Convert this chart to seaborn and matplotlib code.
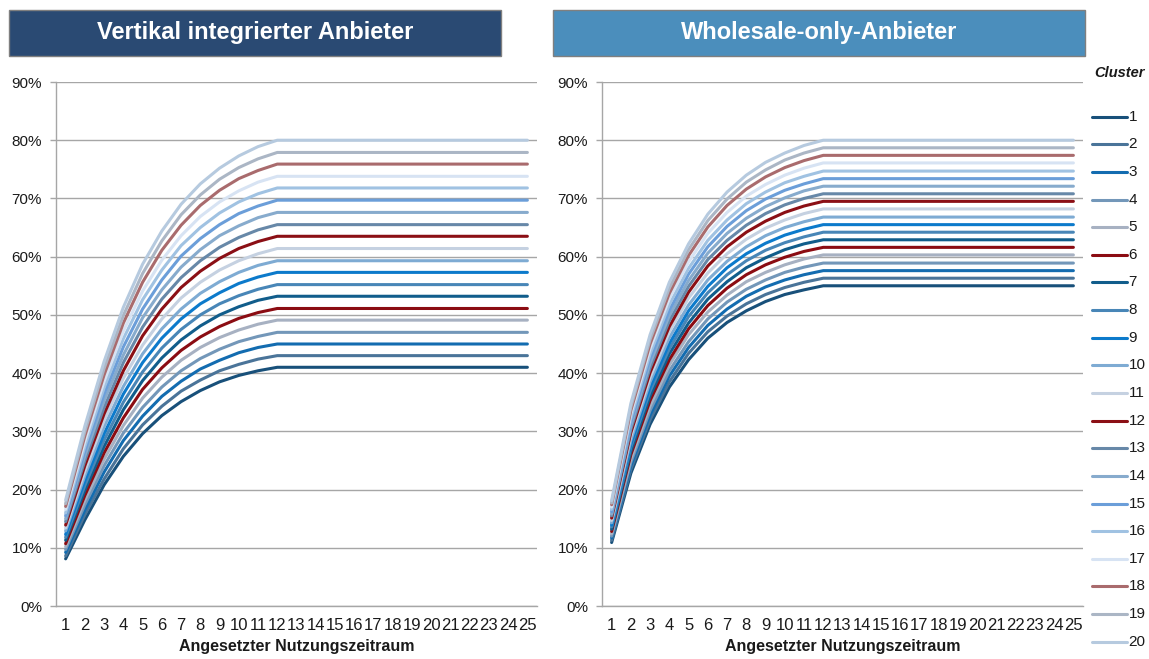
import matplotlib
matplotlib.use("Agg")
import matplotlib.pyplot as plt
from matplotlib.lines import Line2D
from matplotlib.patches import Rectangle
from matplotlib.ticker import FuncFormatter
import pandas as pd
import seaborn as sns

# ---------------------------------------------------------------- data
years = list(range(1, 26))
clusters = [str(i) for i in range(1, 21)]
y_ticks = [0, 10, 20, 30, 40, 50, 60, 70, 80, 90]

panel_titles = ["Vertikal integrierter Anbieter", "Wholesale-only-Anbieter"]
x_label = "Angesetzter Nutzungszeitraum"
legend_title = "Cluster"

cluster_colors = [
    "#18507a", "#4a7499", "#136cb0", "#7397b9", "#a7b1c2",
    "#8b0c12", "#115d8b", "#4886b7", "#0c7acb", "#7eabd3",
    "#c5d1e1", "#8b0f15", "#6788a8", "#87abcd", "#6b9ed9",
    "#a0c2e2", "#d7e3f3", "#a96b6d", "#abb6c5", "#b6cadf",
]
title_colors = ["#2a4a73", "#4b8ebc"]

# share in % per year of use, clusters 1..20
vertikal = [
    [8.1, 14.8, 20.8, 25.7, 29.6, 32.7, 35.1, 37.0, 38.5, 39.6, 40.4, 41.0, 41.0, 41.0, 41.0, 41.0, 41.0, 41.0, 41.0, 41.0, 41.0, 41.0, 41.0, 41.0, 41.0],
    [8.6, 15.7, 21.8, 27.0, 31.1, 34.3, 36.9, 38.8, 40.4, 41.5, 42.4, 43.0, 43.0, 43.0, 43.0, 43.0, 43.0, 43.0, 43.0, 43.0, 43.0, 43.0, 43.0, 43.0, 43.0],
    [9.2, 16.5, 23.0, 28.4, 32.6, 36.0, 38.6, 40.7, 42.2, 43.5, 44.4, 45.0, 45.0, 45.0, 45.0, 45.0, 45.0, 45.0, 45.0, 45.0, 45.0, 45.0, 45.0, 45.0, 45.0],
    [9.7, 17.4, 24.1, 29.7, 34.1, 37.6, 40.4, 42.5, 44.1, 45.4, 46.3, 47.0, 47.0, 47.0, 47.0, 47.0, 47.0, 47.0, 47.0, 47.0, 47.0, 47.0, 47.0, 47.0, 47.0],
    [10.2, 18.2, 25.2, 31.0, 35.7, 39.3, 42.2, 44.4, 46.1, 47.4, 48.4, 49.1, 49.1, 49.1, 49.1, 49.1, 49.1, 49.1, 49.1, 49.1, 49.1, 49.1, 49.1, 49.1, 49.1],
    [10.7, 19.0, 26.3, 32.3, 37.2, 40.9, 43.9, 46.2, 48.0, 49.4, 50.4, 51.1, 51.1, 51.1, 51.1, 51.1, 51.1, 51.1, 51.1, 51.1, 51.1, 51.1, 51.1, 51.1, 51.1],
    [11.3, 19.9, 27.4, 33.7, 38.7, 42.6, 45.7, 48.1, 50.0, 51.4, 52.5, 53.2, 53.2, 53.2, 53.2, 53.2, 53.2, 53.2, 53.2, 53.2, 53.2, 53.2, 53.2, 53.2, 53.2],
    [11.8, 20.7, 28.5, 35.0, 40.2, 44.3, 47.5, 50.0, 51.9, 53.3, 54.4, 55.2, 55.2, 55.2, 55.2, 55.2, 55.2, 55.2, 55.2, 55.2, 55.2, 55.2, 55.2, 55.2, 55.2],
    [12.3, 21.5, 29.6, 36.4, 41.8, 46.0, 49.3, 51.9, 53.8, 55.4, 56.5, 57.3, 57.3, 57.3, 57.3, 57.3, 57.3, 57.3, 57.3, 57.3, 57.3, 57.3, 57.3, 57.3, 57.3],
    [12.9, 22.4, 30.8, 37.7, 43.3, 47.6, 51.0, 53.7, 55.7, 57.3, 58.5, 59.3, 59.3, 59.3, 59.3, 59.3, 59.3, 59.3, 59.3, 59.3, 59.3, 59.3, 59.3, 59.3, 59.3],
    [13.4, 23.2, 31.9, 39.1, 44.8, 49.3, 52.9, 55.6, 57.7, 59.3, 60.5, 61.4, 61.4, 61.4, 61.4, 61.4, 61.4, 61.4, 61.4, 61.4, 61.4, 61.4, 61.4, 61.4, 61.4],
    [13.9, 24.1, 33.0, 40.4, 46.4, 51.0, 54.7, 57.5, 59.7, 61.4, 62.6, 63.5, 63.5, 63.5, 63.5, 63.5, 63.5, 63.5, 63.5, 63.5, 63.5, 63.5, 63.5, 63.5, 63.5],
    [14.5, 25.0, 34.1, 41.8, 47.9, 52.7, 56.4, 59.3, 61.6, 63.3, 64.6, 65.5, 65.5, 65.5, 65.5, 65.5, 65.5, 65.5, 65.5, 65.5, 65.5, 65.5, 65.5, 65.5, 65.5],
    [15.0, 25.8, 35.3, 43.1, 49.5, 54.3, 58.2, 61.2, 63.6, 65.3, 66.7, 67.6, 67.6, 67.6, 67.6, 67.6, 67.6, 67.6, 67.6, 67.6, 67.6, 67.6, 67.6, 67.6, 67.6],
    [15.5, 26.6, 36.4, 44.5, 51.0, 56.0, 60.1, 63.1, 65.5, 67.4, 68.7, 69.7, 69.7, 69.7, 69.7, 69.7, 69.7, 69.7, 69.7, 69.7, 69.7, 69.7, 69.7, 69.7, 69.7],
    [16.0, 27.4, 37.5, 45.9, 52.6, 57.7, 61.9, 65.0, 67.5, 69.4, 70.8, 71.8, 71.8, 71.8, 71.8, 71.8, 71.8, 71.8, 71.8, 71.8, 71.8, 71.8, 71.8, 71.8, 71.8],
    [16.6, 28.3, 38.6, 47.2, 54.1, 59.4, 63.6, 66.9, 69.4, 71.3, 72.8, 73.8, 73.8, 73.8, 73.8, 73.8, 73.8, 73.8, 73.8, 73.8, 73.8, 73.8, 73.8, 73.8, 73.8],
    [17.1, 29.2, 39.7, 48.6, 55.6, 61.1, 65.4, 68.8, 71.4, 73.4, 74.8, 75.9, 75.9, 75.9, 75.9, 75.9, 75.9, 75.9, 75.9, 75.9, 75.9, 75.9, 75.9, 75.9, 75.9],
    [17.6, 30.0, 40.8, 49.9, 57.1, 62.7, 67.2, 70.6, 73.3, 75.3, 76.8, 77.9, 77.9, 77.9, 77.9, 77.9, 77.9, 77.9, 77.9, 77.9, 77.9, 77.9, 77.9, 77.9, 77.9],
    [18.2, 30.9, 42.0, 51.3, 58.7, 64.4, 69.0, 72.5, 75.2, 77.3, 78.9, 80.0, 80.0, 80.0, 80.0, 80.0, 80.0, 80.0, 80.0, 80.0, 80.0, 80.0, 80.0, 80.0, 80.0],
]

wholesale = [
    [10.9, 22.8, 31.2, 37.6, 42.3, 46.0, 48.7, 50.7, 52.3, 53.5, 54.3, 55.0, 55.0, 55.0, 55.0, 55.0, 55.0, 55.0, 55.0, 55.0, 55.0, 55.0, 55.0, 55.0, 55.0],
    [11.3, 23.5, 32.0, 38.5, 43.4, 47.1, 49.8, 51.9, 53.5, 54.7, 55.6, 56.3, 56.3, 56.3, 56.3, 56.3, 56.3, 56.3, 56.3, 56.3, 56.3, 56.3, 56.3, 56.3, 56.3],
    [11.7, 24.1, 32.8, 39.5, 44.4, 48.2, 51.0, 53.2, 54.8, 56.0, 56.9, 57.6, 57.6, 57.6, 57.6, 57.6, 57.6, 57.6, 57.6, 57.6, 57.6, 57.6, 57.6, 57.6, 57.6],
    [12.0, 24.7, 33.6, 40.4, 45.4, 49.3, 52.2, 54.4, 56.0, 57.3, 58.2, 58.9, 58.9, 58.9, 58.9, 58.9, 58.9, 58.9, 58.9, 58.9, 58.9, 58.9, 58.9, 58.9, 58.9],
    [12.4, 25.3, 34.4, 41.4, 46.6, 50.5, 53.4, 55.7, 57.3, 58.6, 59.6, 60.3, 60.3, 60.3, 60.3, 60.3, 60.3, 60.3, 60.3, 60.3, 60.3, 60.3, 60.3, 60.3, 60.3],
    [12.8, 26.0, 35.3, 42.3, 47.6, 51.6, 54.6, 56.9, 58.6, 59.9, 60.9, 61.6, 61.6, 61.6, 61.6, 61.6, 61.6, 61.6, 61.6, 61.6, 61.6, 61.6, 61.6, 61.6, 61.6],
    [13.2, 26.6, 36.1, 43.3, 48.6, 52.7, 55.7, 58.1, 59.8, 61.2, 62.2, 62.9, 62.9, 62.9, 62.9, 62.9, 62.9, 62.9, 62.9, 62.9, 62.9, 62.9, 62.9, 62.9, 62.9],
    [13.6, 27.3, 36.9, 44.2, 49.7, 53.8, 56.9, 59.3, 61.1, 62.4, 63.4, 64.2, 64.2, 64.2, 64.2, 64.2, 64.2, 64.2, 64.2, 64.2, 64.2, 64.2, 64.2, 64.2, 64.2],
    [13.9, 27.8, 37.6, 45.1, 50.7, 54.9, 58.1, 60.5, 62.3, 63.7, 64.7, 65.5, 65.5, 65.5, 65.5, 65.5, 65.5, 65.5, 65.5, 65.5, 65.5, 65.5, 65.5, 65.5, 65.5],
    [14.3, 28.5, 38.5, 46.1, 51.7, 56.0, 59.2, 61.7, 63.6, 65.0, 66.0, 66.8, 66.8, 66.8, 66.8, 66.8, 66.8, 66.8, 66.8, 66.8, 66.8, 66.8, 66.8, 66.8, 66.8],
    [14.7, 29.2, 39.3, 47.1, 52.9, 57.2, 60.5, 63.0, 64.9, 66.3, 67.4, 68.2, 68.2, 68.2, 68.2, 68.2, 68.2, 68.2, 68.2, 68.2, 68.2, 68.2, 68.2, 68.2, 68.2],
    [15.1, 29.8, 40.1, 48.0, 53.9, 58.4, 61.7, 64.2, 66.1, 67.6, 68.7, 69.5, 69.5, 69.5, 69.5, 69.5, 69.5, 69.5, 69.5, 69.5, 69.5, 69.5, 69.5, 69.5, 69.5],
    [15.5, 30.4, 40.9, 49.0, 54.9, 59.5, 62.8, 65.4, 67.4, 68.9, 70.0, 70.8, 70.8, 70.8, 70.8, 70.8, 70.8, 70.8, 70.8, 70.8, 70.8, 70.8, 70.8, 70.8, 70.8],
    [15.8, 31.0, 41.7, 49.9, 55.9, 60.6, 64.0, 66.6, 68.6, 70.1, 71.3, 72.1, 72.1, 72.1, 72.1, 72.1, 72.1, 72.1, 72.1, 72.1, 72.1, 72.1, 72.1, 72.1, 72.1],
    [16.2, 31.6, 42.5, 50.8, 57.0, 61.7, 65.2, 67.9, 69.9, 71.4, 72.5, 73.4, 73.4, 73.4, 73.4, 73.4, 73.4, 73.4, 73.4, 73.4, 73.4, 73.4, 73.4, 73.4, 73.4],
    [16.6, 32.3, 43.3, 51.8, 58.0, 62.8, 66.3, 69.1, 71.1, 72.7, 73.8, 74.7, 74.7, 74.7, 74.7, 74.7, 74.7, 74.7, 74.7, 74.7, 74.7, 74.7, 74.7, 74.7, 74.7],
    [17.0, 33.0, 44.2, 52.8, 59.1, 64.0, 67.6, 70.4, 72.4, 74.0, 75.2, 76.1, 76.1, 76.1, 76.1, 76.1, 76.1, 76.1, 76.1, 76.1, 76.1, 76.1, 76.1, 76.1, 76.1],
    [17.4, 33.6, 45.0, 53.7, 60.2, 65.1, 68.8, 71.6, 73.7, 75.3, 76.5, 77.4, 77.4, 77.4, 77.4, 77.4, 77.4, 77.4, 77.4, 77.4, 77.4, 77.4, 77.4, 77.4, 77.4],
    [17.7, 34.2, 45.8, 54.6, 61.2, 66.2, 69.9, 72.8, 74.9, 76.6, 77.8, 78.7, 78.7, 78.7, 78.7, 78.7, 78.7, 78.7, 78.7, 78.7, 78.7, 78.7, 78.7, 78.7, 78.7],
    [18.1, 34.8, 46.6, 55.6, 62.2, 67.3, 71.1, 74.0, 76.2, 77.8, 79.1, 80.0, 80.0, 80.0, 80.0, 80.0, 80.0, 80.0, 80.0, 80.0, 80.0, 80.0, 80.0, 80.0, 80.0],
]


def to_long(rows):
    records = []
    for cluster, values in zip(clusters, rows):
        for year, value in zip(years, values):
            records.append({"Cluster": cluster, "Jahr": year, "Anteil": value})
    return pd.DataFrame(records)


# ---------------------------------------------------------------- style
sns.set_theme(style="white")
plt.rcParams["font.family"] = ["Liberation Sans", "DejaVu Sans"]
plt.rcParams["text.color"] = "#1a1a1a"

W, H = 1149, 659
fig = plt.figure(figsize=(W / 100, H / 100), dpi=100)
fig.patch.set_facecolor("white")

grid_color = "#a6a6a6"
palette = dict(zip(clusters, cluster_colors))

ax_left = fig.add_axes([56 / W, 53 / H, 481 / W, 524 / H])
ax_right = fig.add_axes([602 / W, 53 / H, 481 / W, 524 / H])

for ax, rows in [(ax_left, vertikal), (ax_right, wholesale)]:
    df = to_long(rows)
    sns.lineplot(data=df, x="Jahr", y="Anteil", hue="Cluster",
                 hue_order=clusters, palette=palette, linewidth=2.2,
                 estimator=None, sort=False, legend=False, ax=ax, zorder=3)
    ax.set_xlim(0.5, 25.5)
    ax.set_ylim(0, 90)
    ax.set_xticks(years)
    ax.set_xticklabels([str(y) for y in years], fontsize=12)
    ax.set_yticks(y_ticks)
    ax.yaxis.set_major_formatter(FuncFormatter(lambda v, p: f"{int(v)}%"))
    ax.tick_params(axis="y", labelsize=11, length=4, width=1,
                   color=grid_color, pad=6, left=True, labelcolor="#1a1a1a")
    ax.tick_params(axis="x", length=0, pad=9, labelcolor="#1a1a1a")
    ax.grid(axis="y", color=grid_color, linewidth=1.0, zorder=0)
    ax.grid(axis="x", visible=False)
    for side in ["top", "right"]:
        ax.spines[side].set_visible(False)
    for side in ["left", "bottom"]:
        ax.spines[side].set_color(grid_color)
        ax.spines[side].set_linewidth(1.0)
    ax.set_ylabel("")
    ax.set_xlabel(x_label, fontsize=11.5, fontweight="bold", color="#1a1a1a")
    ax.xaxis.set_label_coords(0.5, -(647 - 606) / 524)
    ax.xaxis.label.set_va("center")
    ax.set_facecolor("white")

# ---------------------------------------------------------------- title banners
banners = [(8.5, 501, title_colors[0], panel_titles[0]),
           (553, 1085, title_colors[1], panel_titles[1])]
for x0, x1, color, text in banners:
    rect = Rectangle((x0 / W, (H - 56) / H), (x1 - x0) / W, 46 / H,
                     transform=fig.transFigure, facecolor=color,
                     edgecolor="#7f7f7f", linewidth=1.0)
    fig.add_artist(rect)
    fig.text((x0 + x1) / 2 / W, (H - 33) / H, text, color="white",
             fontsize=17, fontweight="bold", ha="center", va="center")

# ---------------------------------------------------------------- legend
fig.text(1120 / W, (H - 73) / H, legend_title, fontsize=10.5,
         fontweight="bold", fontstyle="italic", ha="center", va="center")
for i, (name, color) in enumerate(zip(clusters, cluster_colors)):
    y = (H - (116.7 + i * 27.63)) / H
    fig.add_artist(Line2D([1092 / W, 1127 / W], [y, y], color=color,
                          linewidth=2.2, transform=fig.transFigure))
    fig.text(1128.5 / W, y, name, fontsize=11, ha="left", va="center")

fig.savefig("out.png", dpi=100, facecolor="white")
